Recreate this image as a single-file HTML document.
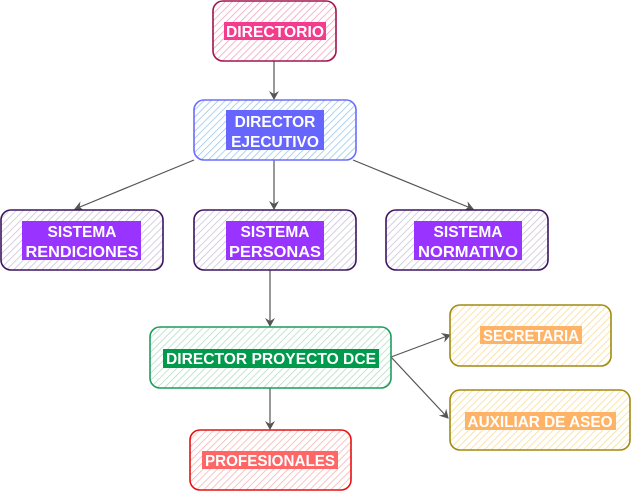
<!DOCTYPE html>
<html><head><meta charset="utf-8"><style>
body{margin:0;background:#fff;width:631px;height:491px;overflow:hidden}
svg text{font-family:"Liberation Sans",sans-serif;font-weight:bold;font-size:15.5px;fill:#fff;text-anchor:middle}
</style></head><body>
<svg width="631" height="491" xmlns="http://www.w3.org/2000/svg">
<defs>
<pattern id="hp" width="5" height="5" patternUnits="userSpaceOnUse" patternTransform="rotate(45)"><line x1="0" y1="0" x2="0" y2="5" stroke="#f0a0bc" stroke-width="1.5"/></pattern>
<pattern id="hb" width="5" height="5" patternUnits="userSpaceOnUse" patternTransform="rotate(45)"><line x1="0" y1="0" x2="0" y2="5" stroke="#94c4ec" stroke-width="1.5"/></pattern>
<pattern id="hv" width="5" height="5" patternUnits="userSpaceOnUse" patternTransform="rotate(45)"><line x1="0" y1="0" x2="0" y2="5" stroke="#c8c0d8" stroke-width="1.5"/></pattern>
<pattern id="hg" width="5" height="5" patternUnits="userSpaceOnUse" patternTransform="rotate(45)"><line x1="0" y1="0" x2="0" y2="5" stroke="#b0dcc2" stroke-width="1.5"/></pattern>
<pattern id="hr" width="5" height="5" patternUnits="userSpaceOnUse" patternTransform="rotate(45)"><line x1="0" y1="0" x2="0" y2="5" stroke="#f6b0b0" stroke-width="1.5"/></pattern>
<pattern id="hy" width="5" height="5" patternUnits="userSpaceOnUse" patternTransform="rotate(45)"><line x1="0" y1="0" x2="0" y2="5" stroke="#f9dc90" stroke-width="1.5"/></pattern>
<marker id="ar" markerWidth="10" markerHeight="10" refX="8" refY="5" orient="auto" markerUnits="userSpaceOnUse"><path d="M0,0 L9,5 L0,10 L3,5 Z" fill="#555"/></marker>
</defs>
<g stroke="#555" stroke-width="1.2" fill="none" marker-end="url(#ar)">
<line x1="274" y1="61" x2="274" y2="99"/>
<line x1="194" y1="160" x2="75" y2="209"/>
<line x1="274" y1="160" x2="274" y2="209"/>
<line x1="353" y1="160" x2="473" y2="209"/>
<line x1="270" y1="270" x2="270" y2="326"/>
<line x1="270" y1="388" x2="270" y2="429"/>
<line x1="391" y1="357" x2="450" y2="335"/>
<line x1="391" y1="357" x2="448" y2="418"/>
</g>
<g stroke-width="1.6">
<rect x="213" y="1" width="123" height="60" rx="10" fill="url(#hp)" stroke="#a0164e"/>
<rect x="194" y="100" width="162" height="60" rx="10" fill="url(#hb)" stroke="#6b6bff"/>
<rect x="1" y="210" width="162" height="60" rx="10" fill="url(#hv)" stroke="#3c1361"/>
<rect x="194" y="210" width="162" height="60" rx="10" fill="url(#hv)" stroke="#3c1361"/>
<rect x="386" y="210" width="162" height="60" rx="10" fill="url(#hv)" stroke="#3c1361"/>
<rect x="150" y="327" width="241" height="61" rx="10" fill="url(#hg)" stroke="#1f9c5c"/>
<rect x="190" y="430" width="161" height="60" rx="10" fill="url(#hr)" stroke="#e81010"/>
<rect x="450" y="305" width="161" height="61" rx="10" fill="url(#hy)" stroke="#a08a10"/>
<rect x="450" y="390" width="180" height="60" rx="10" fill="url(#hy)" stroke="#a08a10"/>
</g>
<rect x="224" y="22" width="102" height="18" fill="#f43c8e"/>
<text x="275" y="37" textLength="98" lengthAdjust="spacingAndGlyphs">DIRECTORIO</text>
<rect x="226" y="110" width="98" height="40" fill="#6666ff"/>
<text x="275" y="127">DIRECTOR</text><text x="275" y="147">EJECUTIVO</text>
<rect x="22" y="221" width="119" height="39" fill="#9933ff"/>
<text x="82" y="237">SISTEMA</text><text x="82" y="257" textLength="113" lengthAdjust="spacingAndGlyphs">RENDICIONES</text>
<rect x="226" y="221" width="98" height="39" fill="#9933ff"/>
<text x="275" y="237">SISTEMA</text><text x="275" y="257" textLength="92" lengthAdjust="spacingAndGlyphs">PERSONAS</text>
<rect x="414" y="221" width="108" height="39" fill="#9933ff"/>
<text x="468" y="237">SISTEMA</text><text x="468" y="257" textLength="100" lengthAdjust="spacingAndGlyphs">NORMATIVO</text>
<rect x="163" y="349" width="216" height="19" fill="#009a4c"/>
<text x="271" y="364" textLength="210" lengthAdjust="spacingAndGlyphs">DIRECTOR PROYECTO DCE</text>
<rect x="202" y="451" width="136" height="18" fill="#ff6666"/>
<text x="270" y="466" textLength="130" lengthAdjust="spacingAndGlyphs">PROFESIONALES</text>
<rect x="480" y="326" width="102" height="18" fill="#ffb366"/>
<text x="531" y="341" textLength="96" lengthAdjust="spacingAndGlyphs">SECRETARIA</text>
<rect x="465" y="412" width="151" height="18" fill="#ffb366"/>
<text x="540" y="427" textLength="145" lengthAdjust="spacingAndGlyphs">AUXILIAR DE ASEO</text>
</svg>
</body></html>
